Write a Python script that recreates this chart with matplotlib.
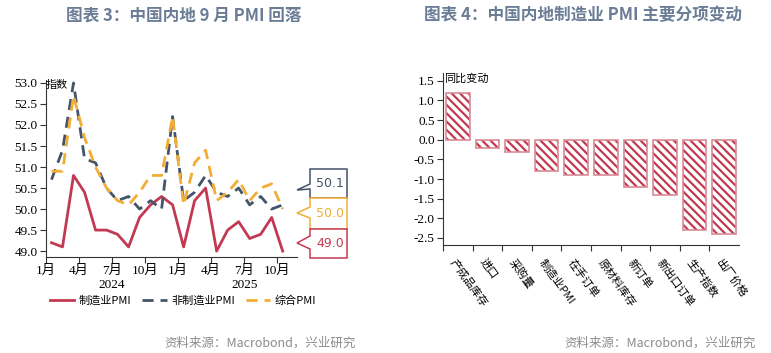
import matplotlib
matplotlib.use("Agg")
import matplotlib.pyplot as plt
from matplotlib.patches import Polygon
from matplotlib.lines import Line2D

plt.rcParams['font.family'] = ['Noto Sans CJK SC', 'DejaVu Sans']
plt.rcParams['hatch.linewidth'] = 1.6

# left chart: monthly PMI, Jan 2024 - Oct 2025
mfg = [49.2, 49.1, 50.8, 50.4, 49.5, 49.5, 49.4, 49.1, 49.8, 50.1, 50.3, 50.1,
       49.1, 50.2, 50.5, 49.0, 49.5, 49.7, 49.3, 49.4, 49.8, 49.0]
non_mfg = [50.7, 51.4, 53.0, 51.2, 51.1, 50.5, 50.2, 50.3, 50.0, 50.2, 50.0, 52.2,
           50.2, 50.4, 50.8, 50.4, 50.3, 50.5, 50.1, 50.3, 50.0, 50.1]
composite = [50.9, 50.9, 52.7, 51.7, 51.0, 50.5, 50.2, 50.1, 50.4, 50.8, 50.8, 52.2,
             50.1, 51.1, 51.4, 50.2, 50.4, 50.7, 50.2, 50.5, 50.6, 50.0]
month_ticks = [0, 3, 6, 9, 12, 15, 18, 21]
month_labels = ['1月', '4月', '7月', '10月', '1月', '4月', '7月', '10月']
years = ['2024', '2025']
series_names = ['制造业PMI', '非制造业PMI', '综合PMI']

# right chart: sub-index changes
items = ['产成品库存', '进口', '采购量', '制造业PMI', '在手订单',
         '原材料库存', '新订单', '新出口订单', '生产指数', '出厂价格']
changes = [1.2, -0.2, -0.3, -0.8, -0.9, -0.9, -1.2, -1.4, -2.3, -2.4]

RED = '#c23a52'
NAVY = '#44546a'
ORANGE = '#f2ad35'
TITLE = '#6b7d96'
GREY = '#8c8c8c'
num_font = ['Liberation Serif', 'Noto Sans CJK SC']

W, H = 771, 353
fig = plt.figure(figsize=(W / 100, H / 100), dpi=100)


def fx(px):
    return px / W


def fy(py):
    return 1 - py / H


# ---- left chart ----
ax1 = fig.add_axes([fx(46), fy(257), fx(297) - fx(46), fy(80) - fy(257)])
x = [i + 0.5 for i in range(len(mfg))]
ax1.plot(x, mfg, color=RED, lw=2, label=series_names[0])
ax1.plot(x, non_mfg, color=NAVY, lw=2, dashes=(4, 2.5), label=series_names[1])
ax1.plot(x, composite, color=ORANGE, lw=2, dashes=(4, 2.5), label=series_names[2])
ax1.set_xlim(0, 22.8)
ax1.set_ylim(48.86, 53.07)
ax1.set_yticks([49.0 + 0.5 * k for k in range(9)])
ax1.set_yticklabels([f'{49.0 + 0.5 * k:.1f}' for k in range(9)], family=num_font, fontsize=9.5)
ax1.set_xticks(month_ticks)
ax1.set_xticklabels(month_labels, family=num_font, fontsize=9.5)
for s in ['top', 'right']:
    ax1.spines[s].set_visible(False)
for s in ['left', 'bottom']:
    ax1.spines[s].set_color('#333333')
ax1.tick_params(length=4, color='#333333', pad=2)
ax1.text(0.005, 53.07, '指数', fontsize=8, va='top', ha='left')
for k, yr in enumerate(years):
    ax1.text(6 + 12 * k, -0.125, yr, transform=ax1.get_xaxis_transform(),
             ha='center', va='top', family=num_font, fontsize=9.5)

handles = [Line2D([], [], color=RED, lw=2),
           Line2D([], [], color=NAVY, lw=2, dashes=(4, 2.5)),
           Line2D([], [], color=ORANGE, lw=2, dashes=(4, 2.5))]
fig.legend(handles, series_names, loc='center', bbox_to_anchor=(fx(183), fy(301)),
           ncol=3, frameon=False, fontsize=8, handlelength=2.2, handletextpad=0.4,
           columnspacing=1.0)

# callout boxes with last values
last_vals = [(non_mfg[-1], NAVY, 169, 198, 184, 190, 189),
             (composite[-1], ORANGE, 198, 229, 207, 213, 218),
             (mfg[-1], RED, 229, 258, 236, 243, 249)]
for val, col, top, bot, a, tip, b in last_vals:
    pts = [(310, top), (347, top), (347, bot), (310, bot), (310, b), (297, tip), (310, a)]
    poly = Polygon([(fx(px), fy(py)) for px, py in pts], closed=True,
                   transform=fig.transFigure, facecolor='white', edgecolor=col, lw=1.1)
    fig.patches.append(poly)
    fig.text(fx(330), fy((top + bot) / 2), f'{val:.1f}', color=col, fontsize=9,
             family='DejaVu Sans', ha='center', va='center')

# ---- right chart ----
ax2 = fig.add_axes([fx(443), fy(245), fx(739) - fx(443), fy(73) - fy(245)])
pos = list(range(len(items)))
ax2.bar(pos, changes, width=0.8, color='white', edgecolor=RED, hatch='\\\\\\\\', lw=0)
ax2.bar(pos, changes, width=0.8, color='none', edgecolor='#d98a96', lw=1.2)
ax2.set_xlim(-0.5, 9.5)
ax2.set_ylim(-2.68, 1.7)
yt = [1.5 - 0.5 * k for k in range(9)]
ax2.set_yticks(yt)
ax2.set_yticklabels([f'{v:.1f}' for v in yt], family=num_font, fontsize=9.5)
ax2.set_xticks([p - 0.5 for p in pos])
ax2.set_xticklabels([])
for s in ['top', 'right']:
    ax2.spines[s].set_visible(False)
for s in ['left', 'bottom']:
    ax2.spines[s].set_color('#333333')
ax2.tick_params(length=4, color='#333333', pad=2)
ax2.text(-0.48, 1.7, '同比变动', fontsize=8, va='top', ha='left')
for p, lab in zip(pos, items):
    ax2.text(p - 0.05, -0.07, lab, transform=ax2.get_xaxis_transform(),
             rotation=-54, rotation_mode='anchor', ha='left', va='top', fontsize=8)

# titles and sources
fig.text(fx(184), fy(15), '图表 3：中国内地 9 月 PMI 回落', color=TITLE,
         fontsize=12, fontweight='bold', ha='center', va='center')
fig.text(fx(583), fy(15), '图表 4：中国内地制造业 PMI 主要分项变动', color=TITLE,
         fontsize=12, fontweight='bold', ha='center', va='center')
fig.text(fx(356), fy(343), '资料来源：Macrobond，兴业研究', color=GREY,
         fontsize=9, ha='right', va='center')
fig.text(fx(756), fy(343), '资料来源：Macrobond，兴业研究', color=GREY,
         fontsize=9, ha='right', va='center')

fig.savefig('out.png', dpi=100)
